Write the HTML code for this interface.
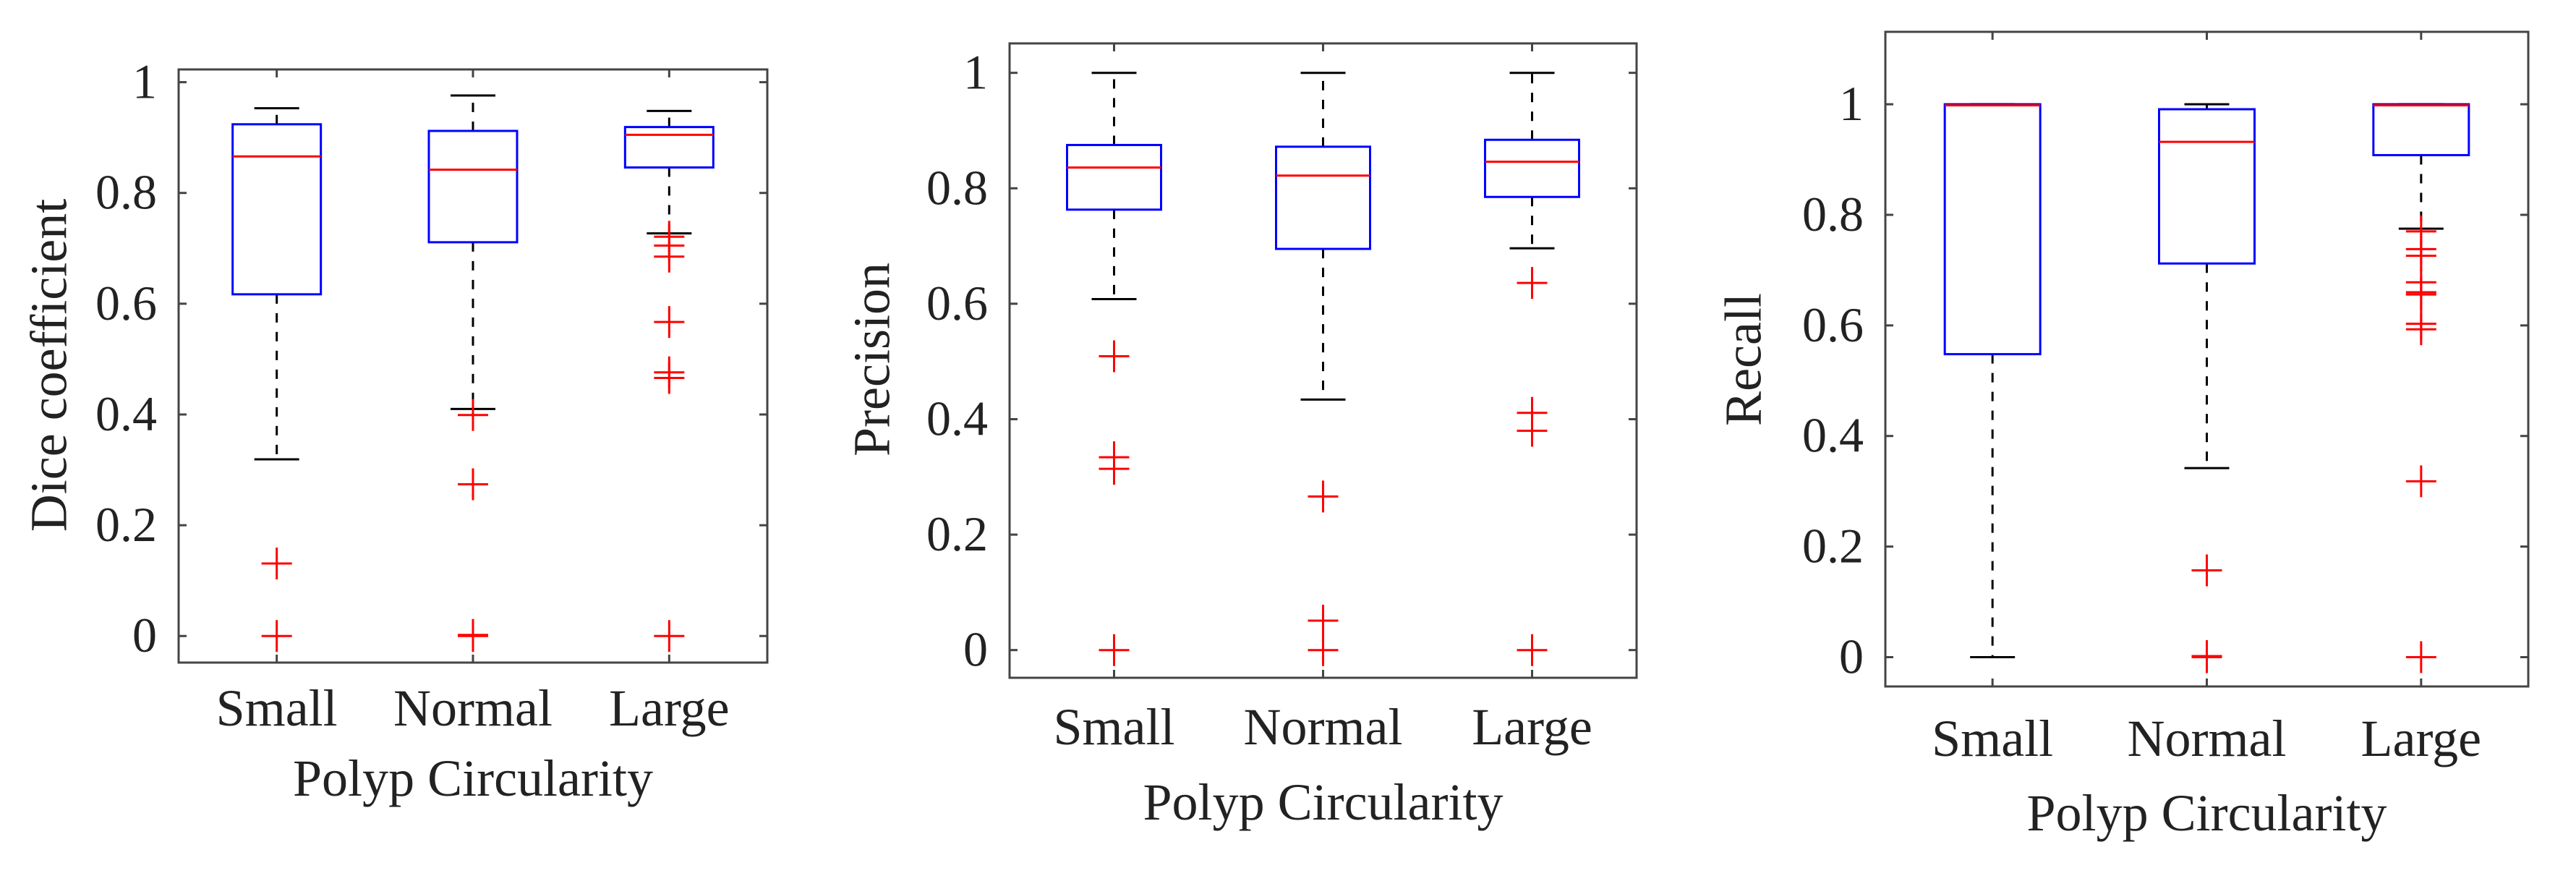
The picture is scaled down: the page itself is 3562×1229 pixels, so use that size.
<!DOCTYPE html>
<html><head><meta charset="utf-8"><style>
html,body{margin:0;padding:0;background:#fff;}
svg{display:block;}
text{font-family:"Liberation Serif",serif;fill:#222;}
</style></head><body>
<svg id="chart" width="3562" height="1229" viewBox="0 0 3562 1229" xmlns="http://www.w3.org/2000/svg"></svg>
<script>
const categories = ["Small","Normal","Large"];
// [whiskerLow, Q1, median, Q3, whiskerHigh]
const diceStats = [[0.319,0.617,0.866,0.924,0.953],[0.41,0.711,0.842,0.912,0.976],[0.727,0.846,0.905,0.919,0.948]];
const diceOutliers = [[0.131,0],[0.399,0.274,0.002,0],[0.721,0.705,0.685,0.567,0.466,0.476,0]];
const precStats = [[0.608,0.763,0.836,0.875,1.0],[0.434,0.695,0.822,0.872,1.0],[0.696,0.785,0.846,0.884,1.0]];
const precOutliers = [[0.509,0.334,0.314,0],[0.266,0.051,0],[0.636,0.411,0.380,0]];
const recStats = [[0,0.548,0.998,1.0,1.0],[0.342,0.712,0.932,0.991,1.0],[0.775,0.908,0.998,1.0,1.0]];
const recOutliers = [[],[0.157,0.002,0],[0.77,0.738,0.726,0.678,0.660,0.656,0.603,0.593,0.318,0]];
const yTicks = [0,0.2,0.4,0.6,0.8,1];
const yTickLabels = ["0","0.2","0.4","0.6","0.8","1"];

const panels = [
 {name:"dice",ylabel:"Dice coefficient",stats:diceStats,out:diceOutliers,L:247,R:1061,T:96,B:916,ymin:-0.048,ymax:1.023,half:61,catY:1003,xlY:1100,ylX:75,ylY:505},
 {name:"precision",ylabel:"Precision",stats:precStats,out:precOutliers,L:1396,R:2263,T:60,B:937,ymin:-0.048,ymax:1.051,half:65,catY:1029,xlY:1133,ylX:1213,ylY:497},
 {name:"recall",ylabel:"Recall",stats:recStats,out:recOutliers,L:2607,R:3496,T:44,B:949,ymin:-0.053,ymax:1.131,half:66,catY:1045,xlY:1148,ylX:2418,ylY:497}
];
const svg = document.getElementById('chart');
const NS = "http://www.w3.org/2000/svg";
function mk(tag, attrs, parent){const e=document.createElementNS(NS,tag);for(const k in attrs)e.setAttribute(k,attrs[k]);(parent||svg).appendChild(e);return e;}

panels.forEach(p=>{
  const g = mk('g',{});
  
  
  const W=p.R-p.L;
  const y = v => p.B - (v-p.ymin)/(p.ymax-p.ymin)*(p.B-p.T);
  const x = i => p.L + W*(i+1)/4 - W*0.0 ; // placeholder
  // MATLAB boxplot: categories at 1..3 with xlim [0.5,3.5]
  const xc = i => p.L + (i+0.5)/3*W;
  const frame = mk('rect',{x:p.L,y:p.T,width:W,height:p.B-p.T,fill:'none',stroke:'#444','stroke-width':3},g);
  
  
  yTicks.forEach((t,k)=>{
    mk('line',{x1:p.L,x2:p.L+11,y1:y(t),y2:y(t),stroke:'#444','stroke-width':3},g);
    mk('line',{x1:p.R,x2:p.R-11,y1:y(t),y2:y(t),stroke:'#444','stroke-width':3},g);
    const tl = mk('text',{x:p.L-30,y:y(t)+22,'text-anchor':'end','font-size':68},g);
    tl.textContent = yTickLabels[k];
    
    
  });
  categories.forEach((c,i)=>{
    const cx=xc(i), s=p.stats[i];
    mk('line',{x1:cx,x2:cx,y1:p.B,y2:p.B-11,stroke:'#444','stroke-width':3},g);
    mk('line',{x1:cx,x2:cx,y1:p.T,y2:p.T+11,stroke:'#444','stroke-width':3},g);
    const wl = mk('line',{x1:cx,x2:cx,y1:y(s[3]),y2:y(s[4]),stroke:'#000','stroke-width':3,'stroke-dasharray':'13 13'},g);
    
    
    const wl2 = mk('line',{x1:cx,x2:cx,y1:y(s[1]),y2:y(s[0]),stroke:'#000','stroke-width':3,'stroke-dasharray':'13 13'},g);
    
    
    [s[0],s[4]].forEach(v=>{
      const cap = mk('line',{x1:cx-31,x2:cx+31,y1:y(v),y2:y(v),stroke:'#000','stroke-width':3},g);
      
      
    });
    const box = mk('rect',{x:cx-p.half,y:y(s[3]),width:2*p.half,height:y(s[1])-y(s[3]),fill:'none',stroke:'#0000ff','stroke-width':3},g);
    
    
    const med = mk('line',{x1:cx-p.half,x2:cx+p.half,y1:y(s[2]),y2:y(s[2]),stroke:'#ff0000','stroke-width':3},g);
    
    
    p.out[i].forEach(v=>{
      const o = mk('path',{d:`M${cx-21},${y(v)}h42M${cx},${y(v)-22}v44`,stroke:'#ff0000','stroke-width':3,fill:'none'},g);
      
      
    });
    const cl = mk('text',{x:cx,y:p.catY,'text-anchor':'middle','font-size':72},g);
    cl.textContent = c;
    
    
  });
  const xl = mk('text',{x:(p.L+p.R)/2,y:p.xlY,'text-anchor':'middle','font-size':72},g);
  xl.textContent = "Polyp Circularity";
  
  
  const yl = mk('text',{x:p.ylX,y:p.ylY,'text-anchor':'middle','font-size':72,transform:`rotate(-90 ${p.ylX} ${p.ylY})`,'dominant-baseline':'middle'},g);
  yl.textContent = p.ylabel;
  
  
});
</script>
</body></html>
